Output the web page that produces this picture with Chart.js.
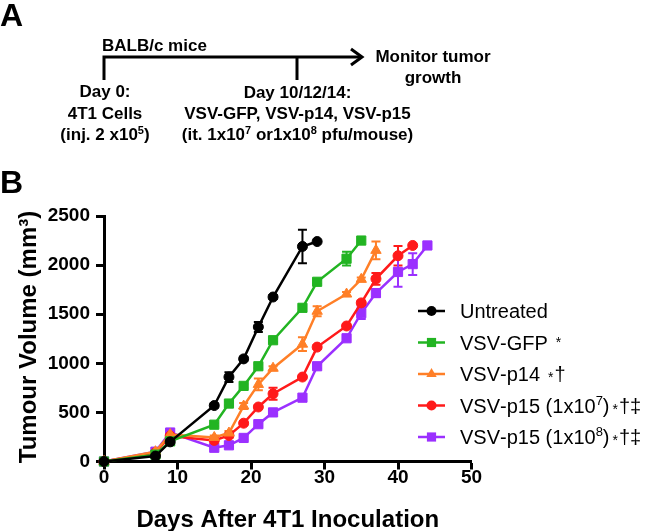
<!DOCTYPE html>
<html>
<head>
<meta charset="utf-8">
<script src="https://cdn.jsdelivr.net/npm/chart.js@4.4.1/dist/chart.umd.min.js"></script>
<style>
  html, body { margin: 0; padding: 0; background: #fff; }
  #wrap { position: relative; width: 649px; height: 531px; overflow: hidden; }
  #chart { position: absolute; left: 0; top: 0; }
  #panelA { position: absolute; left: 0; top: 0; font-family: "Liberation Sans", Arial, sans-serif; font-weight: bold; }
</style>
</head>
<body>
<div id="wrap">
  <canvas id="chart" width="649" height="531"></canvas>
  <svg id="panelA" width="649" height="200">
    <text x="0" y="26" font-size="32">A</text>
    <text x="0" y="193" font-size="32">B</text>
    <text x="102" y="51" font-size="17">BALB/c mice</text>
    <polyline points="104,80 104,57 360,57" fill="none" stroke="#000" stroke-width="3"/>
    <polyline points="351,49 362,57 351,65" fill="none" stroke="#000" stroke-width="3"/>
    <line x1="297" y1="57" x2="297" y2="80" stroke="#000" stroke-width="3"/>
    <g font-size="17" text-anchor="middle">
      <text x="433" y="62">Monitor tumor</text>
      <text x="433" y="83">growth</text>
      <text x="105" y="97">Day 0:</text>
      <text x="105" y="119">4T1 Cells</text>
      <text x="105" y="140">(inj. 2 x10<tspan dy="-6" font-size="11">5</tspan><tspan dy="6">)</tspan></text>
      <text x="297.5" y="98">Day 10/12/14:</text>
      <text x="297.5" y="119">VSV-GFP, VSV-p14, VSV-p15</text>
      <text x="297.5" y="140">(it. 1x10<tspan dy="-6" font-size="11">7</tspan><tspan dy="6"> or1x10</tspan><tspan dy="-6" font-size="11">8</tspan><tspan dy="6"> pfu/mouse)</tspan></text>
    </g>
  </svg>
</div>
<script>
// panel B data, days after inoculation
var days = [0, 7, 9, 15, 17, 19, 21, 23, 27, 29, 33, 35, 37, 40, 42, 44];

var untreated = [0, 55, 200, 570, 860, 1045, 1370, 1675, 2190, 2240];
var untreatedErr = [0, 10, 20, 20, 50, 20, 50, 20, 170, 0];

var vsvGfp = [0, 70, 205, 375, 590, 770, 970, 1235, 1565, 1830, 2065, 2250];
var vsvGfpErr = [0, 10, 10, 15, 20, 20, 20, 20, 20, 20, 70, 0];

var vsvP14 = [0, 100, 275, 245, 290, 565, 785, 950, 1195, 1530, 1705, 1855, 2150];
var vsvP14Err = [0, 10, 10, 20, 20, 30, 60, 20, 70, 50, 20, 20, 90];

var vsvP15e7 = [0, 90, 260, 215, 265, 390, 555, 690, 860, 1165, 1380, 1615, 1860, 2095, 2200];
var vsvP15e7Err = [0, 10, 10, 10, 20, 20, 20, 60, 20, 20, 20, 20, 60, 100, 0];

var vsvP15e8 = [0, 100, 295, 140, 165, 240, 380, 500, 650, 970, 1255, 1510, 1715, 1930, 2010, 2200];
var vsvP15e8Err = [0, 10, 10, 10, 20, 20, 20, 20, 20, 20, 20, 60, 40, 150, 110, 0];

var seriesNames = ["Untreated", "VSV-GFP", "VSV-p14", "VSV-p15 (1x10⁷)", "VSV-p15 (1x10⁸)"];
var seriesMarks = ["", "*", "*†", "*†‡", "*†‡"];
var seriesColors = ["#000000", "#22b422", "#ff7f27", "#ff1a1a", "#9b30ff"];
var seriesMarkers = ["circle", "rect", "triangle", "circle", "rect"];

var xTicks = [0, 10, 20, 30, 40, 50];
var yTicks = [0, 500, 1000, 1500, 2000, 2500];

var FONT = "'Liberation Sans', Arial, sans-serif";
Chart.defaults.font.family = FONT;
Chart.defaults.color = "#000";

function toPoints(vals) {
    return vals.map(function (v, i) { return { x: days[i], y: v }; });
}

var allVals = [untreated, vsvGfp, vsvP14, vsvP15e7, vsvP15e8];
var allErrs = [untreatedErr, vsvGfpErr, vsvP14Err, vsvP15e7Err, vsvP15e8Err];
var markerRadius = { circle: 5, rect: 6.5, triangle: 6 };

var datasets = allVals.map(function (vals, k) {
    return {
        label: seriesNames[k],
        data: toPoints(vals),
        errors: allErrs[k],
        borderColor: seriesColors[k],
        backgroundColor: seriesColors[k],
        borderWidth: 2.5,
        pointStyle: seriesMarkers[k],
        pointRadius: markerRadius[seriesMarkers[k]],
        pointBorderWidth: 1,
        clip: false,
    };
});

// SEM bars, drawn behind the lines and markers
var errorBars = {
    id: "errorBars",
    beforeDatasetsDraw: function (chart) {
        var ctx = chart.ctx;
        var yScale = chart.scales.y;
        ctx.save();
        ctx.lineWidth = 2;
        chart.data.datasets.forEach(function (ds, k) {
            var meta = chart.getDatasetMeta(k);
            ctx.strokeStyle = ds.borderColor;
            meta.data.forEach(function (pt, i) {
                var e = ds.errors[i];
                if (!e) return;
                var v = ds.data[i].y;
                var top = yScale.getPixelForValue(v + e);
                var bot = yScale.getPixelForValue(v - e);
                ctx.beginPath();
                ctx.moveTo(pt.x, top); ctx.lineTo(pt.x, bot);
                ctx.moveTo(pt.x - 4.5, top); ctx.lineTo(pt.x + 4.5, top);
                ctx.moveTo(pt.x - 4.5, bot); ctx.lineTo(pt.x + 4.5, bot);
                ctx.stroke();
            });
        });
        ctx.restore();
    },
};

function drawMarker(ctx, style, x, y, r) {
    ctx.beginPath();
    if (style === "circle") {
        ctx.arc(x, y, r, 0, Math.PI * 2);
    } else if (style === "rect") {
        var s = r * Math.SQRT1_2;
        ctx.rect(x - s, y - s, 2 * s, 2 * s);
    } else {
        ctx.moveTo(x, y - r);
        ctx.lineTo(x + r * 0.866, y + r * 0.5);
        ctx.lineTo(x - r * 0.866, y + r * 0.5);
        ctx.closePath();
    }
    ctx.fill();
}

var SUPS = "⁰¹²³⁴⁵⁶⁷⁸⁹";

// legend on the right, plus the rotated y title
var sideText = {
    id: "sideText",
    afterDraw: function (chart) {
        var ctx = chart.ctx;
        ctx.save();
        ctx.textBaseline = "alphabetic";
        var rowY = [311, 342.5, 374, 405.5, 437];
        chart.data.datasets.forEach(function (ds, k) {
            var y = rowY[k];
            ctx.strokeStyle = ds.borderColor;
            ctx.fillStyle = ds.borderColor;
            ctx.lineWidth = 2.5;
            ctx.beginPath();
            ctx.moveTo(418, y); ctx.lineTo(445, y);
            ctx.stroke();
            drawMarker(ctx, ds.pointStyle, 431.5, y, ds.pointRadius);

            ctx.fillStyle = "#000";
            var x = 460;
            var name = seriesNames[k];
            for (var c = 0; c < name.length; c++) {
                var ch = name[c];
                var si = SUPS.indexOf(ch);
                if (si >= 0) {
                    ctx.font = "13px " + FONT;
                    ctx.fillText(String(si), x, y - 1);
                    x += ctx.measureText(String(si)).width;
                } else {
                    ctx.font = "20px " + FONT;
                    ctx.fillText(ch, x, y + 7);
                    x += ctx.measureText(ch).width;
                }
            }
            var marks = seriesMarks[k];
            if (marks) {
                x += (k >= 3) ? 3 : 8;
                ctx.font = "14px " + FONT;
                ctx.fillText("*", x, k === 1 ? y + 4 : y + 8);
                x += ctx.measureText("*").width + 1;
                ctx.font = "20px " + FONT;
                ctx.fillText(marks.slice(1), x, y + 7);
            }
        });

        ctx.font = "bold 24px " + FONT;
        ctx.translate(36, 337);
        ctx.rotate(-Math.PI / 2);
        ctx.textAlign = "center";
        ctx.fillText("Tumour Volume (mm³)", 0, 0);
        ctx.restore();
    },
};

function plainTick(v) { return String(v); }

new Chart(document.getElementById("chart"), {
    type: "line",
    data: { datasets: datasets },
    options: {
        responsive: false,
        animation: false,
        layout: { padding: { left: 0, top: 216, right: 177.5, bottom: 0 } },
        plugins: { legend: { display: false }, tooltip: { enabled: false } },
        scales: {
            x: {
                type: "linear",
                min: 0,
                max: 50,
                afterFit: function (s) { s.height = 69.5; },
                afterBuildTicks: function (s) { s.ticks = xTicks.map(function (v) { return { value: v }; }); },
                grid: { drawOnChartArea: false, tickLength: 8, tickWidth: 3, tickColor: "#000" },
                border: { color: "#000", width: 3 },
                ticks: { font: { size: 19, weight: "bold" }, padding: -3, maxRotation: 0, callback: plainTick },
                title: {
                    display: true,
                    text: "Days After 4T1 Inoculation",
                    font: { size: 24, weight: "bold" },
                    padding: { top: 0, bottom: -4 },
                },
            },
            y: {
                min: 0,
                max: 2500,
                afterFit: function (s) { s.width = 104; },
                afterBuildTicks: function (s) { s.ticks = yTicks.map(function (v) { return { value: v }; }); },
                grid: { drawOnChartArea: false, tickLength: 8, tickWidth: 3, tickColor: "#000" },
                border: { color: "#000", width: 3 },
                ticks: { font: { size: 19, weight: "bold" }, padding: 6, callback: plainTick },
            },
        },
    },
    plugins: [errorBars, sideText],
});
</script>
</body>
</html>
